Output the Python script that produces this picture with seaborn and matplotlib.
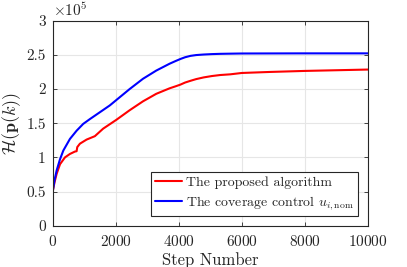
import numpy as np
import pandas as pd
import seaborn as sns
import matplotlib
matplotlib.use("Agg")
import matplotlib.pyplot as plt
from matplotlib.ticker import FuncFormatter

# values (y in units of 1e5)
steps_prop = [0, 60, 126, 232, 390, 547, 705, 758, 779, 863, 1074, 1337, 1600, 2021,
              2442, 2864, 3285, 3706, 3900, 4053, 4200, 4368, 4550, 4789, 5050,
              5316, 5632, 6000, 6895, 8000, 10000]
h_prop = [0.50, 0.64, 0.76, 0.90, 1.00, 1.05, 1.085, 1.09, 1.15, 1.20, 1.26, 1.31,
          1.42, 1.55, 1.69, 1.82, 1.93, 2.01, 2.04, 2.065, 2.095, 2.12, 2.145,
          2.17, 2.19, 2.205, 2.215, 2.235, 2.25, 2.265, 2.285]

steps_cov = [0, 60, 126, 230, 337, 547, 758, 968, 1179, 1495, 1811, 2021, 2442, 2864,
             3285, 3706, 3900, 4053, 4200, 4368, 4550, 4789, 5050, 5316, 5700,
             6000, 8000, 10000]
h_cov = [0.50, 0.67, 0.81, 0.97, 1.10, 1.27, 1.39, 1.49, 1.56, 1.66, 1.76, 1.84,
         2.00, 2.15, 2.27, 2.37, 2.41, 2.44, 2.465, 2.485, 2.497, 2.505, 2.511,
         2.515, 2.518, 2.52, 2.522, 2.522]

labels = ["The proposed algorithm", r"The coverage control $u_{i,\mathrm{nom}}$"]
colors = ["#ff0000", "#0000ff"]

df = pd.concat([
    pd.DataFrame({"step": steps_prop, "H": np.array(h_prop) * 1e5, "method": labels[0]}),
    pd.DataFrame({"step": steps_cov, "H": np.array(h_cov) * 1e5, "method": labels[1]}),
])

sns.set_style("whitegrid")
plt.rcParams["font.family"] = ["cmr10", "DejaVu Serif"]
plt.rcParams["mathtext.fontset"] = "cm"
plt.rcParams["axes.formatter.use_mathtext"] = True
plt.rcParams["axes.unicode_minus"] = False

fig = plt.figure(figsize=(4.07, 2.67), dpi=100)
ax = fig.add_axes([0.1295, 0.1547, 0.7745, 0.7678])

sns.lineplot(data=df, x="step", y="H", hue="method", palette=colors,
             linewidth=1.5, ax=ax, sort=False, estimator=None)

ax.set_xlim(0, 10000)
ax.set_ylim(0, 3e5)
ax.set_xticks(np.arange(0, 10001, 2000))
ax.set_yticks(np.arange(0, 3.01e5, 0.5e5))
ax.yaxis.set_major_formatter(FuncFormatter(lambda v, p: f"{v / 1e5:g}"))
ax.text(0.0, 1.01, r"$\times10^{5}$", transform=ax.transAxes, fontsize=11,
        ha="left", va="bottom", color="#262626")

ax.grid(True, color="#e6e6e6", linewidth=0.8)
for s in ax.spines.values():
    s.set_visible(True)
    s.set_color("#262626")
    s.set_linewidth(0.8)
ax.tick_params(direction="in", length=3, width=0.6, color="#262626",
               labelsize=11, labelcolor="#262626", top=True, right=True,
               bottom=True, left=True)
ax.tick_params(axis="x", pad=6)
ax.tick_params(axis="y", pad=5)

ax.set_xlabel("Step Number", fontsize=12, labelpad=2)
ax.set_ylabel(r"$\mathcal{H}(\mathbf{p}(k))$", fontsize=13, labelpad=2)

leg = ax.legend(loc="lower right", fontsize=10, frameon=True, fancybox=False,
                edgecolor="#262626", framealpha=1, borderpad=0.3,
                labelspacing=0.35, handlelength=1.9, handletextpad=0.3,
                borderaxespad=0.7)
leg.get_frame().set_linewidth(0.8)

fig.savefig("out.png", dpi=100)
